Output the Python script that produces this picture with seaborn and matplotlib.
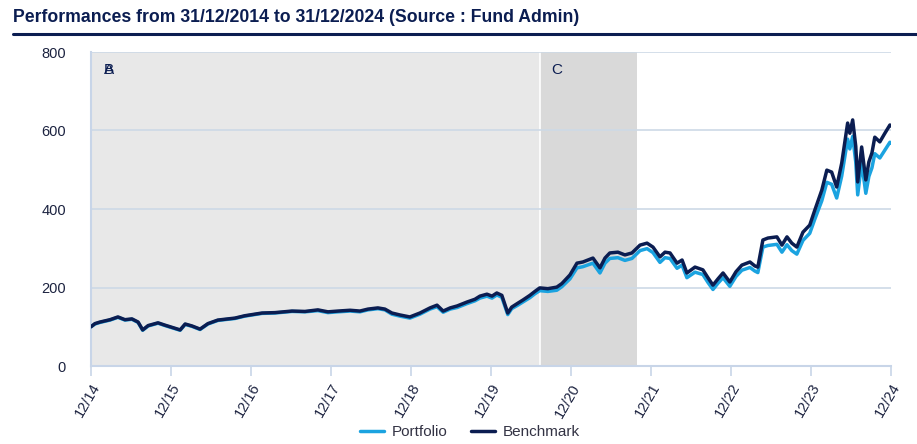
import matplotlib
matplotlib.use("Agg")
import matplotlib.pyplot as plt
from matplotlib.lines import Line2D
import seaborn as sns
import pandas as pd

# ---------------- data ----------------
dates = ["2014-12-31","2015-01-18","2015-02-10","2015-03-28","2015-05-03","2015-06-04","2015-07-06",
         "2015-08-03","2015-08-24","2015-09-18","2015-11-02","2015-12-04","2016-02-11","2016-03-05",
         "2016-04-05","2016-05-12","2016-06-17","2016-08-01","2016-09-16","2016-10-18","2016-12-02",
         "2017-02-19","2017-04-19","2017-07-06","2017-09-03","2017-11-01","2017-12-17","2018-02-01",
         "2018-03-28","2018-05-12","2018-06-18","2018-08-02","2018-09-03","2018-10-05","2018-11-11",
         "2018-12-26","2019-02-10","2019-03-28","2019-04-29","2019-05-27","2019-06-28","2019-07-30",
         "2019-09-13","2019-10-19","2019-11-11","2019-12-13","2020-01-05","2020-01-27","2020-02-19",
         "2020-03-17","2020-04-04","2020-05-02","2020-05-25","2020-06-26","2020-07-19","2020-08-10",
         "2020-09-16","2020-10-27","2020-11-19","2020-12-26","2021-01-27","2021-02-23","2021-04-10",
         "2021-05-12","2021-06-04","2021-06-26","2021-08-02","2021-09-03","2021-10-05","2021-11-11",
         "2021-12-13","2022-01-09","2022-02-10","2022-03-05","2022-03-28","2022-04-29","2022-05-22",
         "2022-06-13","2022-07-20","2022-08-25","2022-09-17","2022-10-10","2022-11-02","2022-11-25",
         "2022-12-26","2023-01-23","2023-02-19","2023-03-28","2023-04-19","2023-05-03","2023-05-26",
         "2023-06-18","2023-07-29","2023-08-21","2023-09-13","2023-10-05","2023-10-28","2023-11-25",
         "2023-12-26","2024-01-18","2024-02-19","2024-03-13","2024-04-04","2024-04-27","2024-05-20",
         "2024-06-16","2024-06-26","2024-07-09","2024-07-23","2024-08-01","2024-08-19","2024-09-07",
         "2024-09-21","2024-10-05","2024-10-18","2024-11-10","2024-12-03","2024-12-26","2024-12-31"]

benchmark = [100,108,112,118,125,118,120,112,92,103,110,104,92,107,102,94,108,117,120,122,128,
             135,136,140,139,143,138,140,142,140,145,148,145,135,130,125,135,148,155,140,148,153,
             163,170,178,183,178,186,180,135,150,160,168,180,190,199,197,201,210,232,262,265,275,
             250,275,288,290,283,288,308,313,303,278,290,288,262,270,237,252,245,225,206,222,237,
             214,240,257,265,255,252,321,326,329,308,329,313,303,341,359,397,448,499,494,456,517,
             619,593,627,560,469,558,474,520,543,583,571,593,614,612]

portfolio = [100,107,111,117,124,117,119,111,91,102,109,103,91,106,101,93,107,116,119,121,127,
             134,135,139,138,141,136,138,140,138,143,146,143,132,127,122,132,145,151,137,145,149,
             159,166,173,178,173,181,175,131,146,155,163,174,184,192,190,193,202,222,250,253,262,
             237,262,274,276,269,274,294,299,289,264,276,274,249,257,225,239,233,213,195,211,225,
             203,228,244,251,242,238,303,307,310,290,309,294,285,320,338,374,421,468,463,428,484,
             578,553,585,520,436,518,440,483,505,541,530,550,570,568]

series_names = ["Portfolio", "Benchmark"]
series_colors = ["#1BA3E0", "#0B1D51"]
tick_dates = ["2014-12-31","2015-12-31","2016-12-31","2017-12-31","2018-12-31","2019-12-31",
              "2020-12-31","2021-12-31","2022-12-31","2023-12-31","2024-12-31"]
tick_labels = ["12/14","12/15","12/16","12/17","12/18","12/19","12/20","12/21","12/22","12/23","12/24"]
y_ticks = [0, 200, 400, 600, 800]
periods = [("2014-12-31", "2020-08-10", "#E8E8E8"), ("2020-08-10", "2021-10-27", "#D9D9D9")]
period_labels = [("A", "2015-03-01"), ("B", "2015-03-01"), ("C", "2020-10-01")]
title = "Performances from 31/12/2014 to 31/12/2024 (Source : Fund Admin)"

assert len(dates) == len(benchmark) == len(portfolio)

df = pd.concat([
    pd.DataFrame({"date": pd.to_datetime(dates), "value": portfolio, "series": "Portfolio"}),
    pd.DataFrame({"date": pd.to_datetime(dates), "value": benchmark, "series": "Benchmark"}),
])

# ---------------- plot ----------------
sns.set_theme(style="white")
plt.rcParams["font.family"] = ["Liberation Sans", "DejaVu Sans"]

fig = plt.figure(figsize=(9.17, 4.44), dpi=100)
ax = fig.add_axes([91/917, 1-366/444, 800/917, 314/444])

for start, end, col in periods:
    ax.axvspan(pd.Timestamp(start), pd.Timestamp(end), color=col, lw=0, zorder=0)
ax.axvline(pd.Timestamp(periods[1][0]), color="white", lw=1.2, zorder=0.5)

for yv in y_ticks[1:]:
    ax.axhline(yv, color="#CDD9E6", lw=1.2, zorder=1)

sns.lineplot(data=df, x="date", y="value", hue="series", hue_order=series_names,
             palette=series_colors, lw=2.5, ax=ax, legend=False, zorder=3, estimator=None)

ax.set_xlim(pd.Timestamp(dates[0]), pd.Timestamp(dates[-1]))
ax.set_ylim(0, 800)
ax.set_xlabel("")
ax.set_ylabel("")

txt_color = "#1C2340"
ax.set_yticks(y_ticks)
ax.set_yticklabels([str(v) for v in y_ticks], fontsize=10.5, color=txt_color)
ax.set_xticks([pd.Timestamp(d) for d in tick_dates])
ax.set_xticklabels(tick_labels, rotation=60, ha="right", rotation_mode="anchor",
                   fontsize=10.5, color=txt_color)
ax.tick_params(axis="x", which="major", length=7, width=1.2, color="#C8D5E8",
               direction="out", bottom=True, pad=4)
ax.tick_params(axis="y", length=0, pad=18)

for s in ["top", "right"]:
    ax.spines[s].set_visible(False)
for s in ["left", "bottom"]:
    ax.spines[s].set_color("#C8D5E8")
    ax.spines[s].set_linewidth(1.5)

for lab, d in period_labels:
    ax.text(pd.Timestamp(d), 745, lab, fontsize=11, color="#0B1D51", zorder=4)

# title and underline
fig.text(13/917, 1-17/444, title, fontsize=12.7, fontweight="bold", color="#0B1D51",
         va="center", ha="left")
fig.add_artist(Line2D([13/917, 1.0], [1-34/444, 1-34/444], color="#0B1D51", lw=2.2,
                      transform=fig.transFigure))

handles = [Line2D([0], [0], color=c, lw=2.5) for c in series_colors]
fig.legend(handles, series_names, loc="center", bbox_to_anchor=(470/917, 1-432/444),
           ncol=2, frameon=False, fontsize=11, handlelength=1.6, columnspacing=1.5,
           handletextpad=0.5, labelcolor="#333344")

fig.savefig("out.png", dpi=100)
